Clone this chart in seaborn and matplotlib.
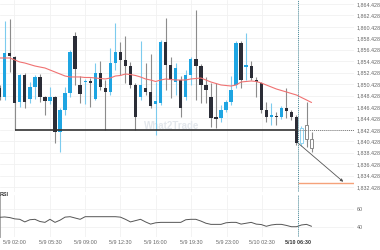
import numpy as np
import pandas as pd
import seaborn as sns
import matplotlib
matplotlib.use("Agg")
import matplotlib.pyplot as plt

# ---------------- data ----------------
opens = [1849.74, 1848.17, 1855.86, 1855.16, 1847.30, 1852.02, 1847.82, 1849.92, 1851.67, 1848.17,
         1847.47, 1848.17, 1842.05, 1845.90, 1848.87, 1858.83, 1850.27, 1850.79, 1850.97, 1847.82,
         1852.37, 1849.74, 1849.05, 1854.11, 1856.04, 1854.64, 1853.59, 1850.27, 1848.17, 1849.74,
         1849.05, 1846.95, 1847.12, 1857.79, 1853.77, 1850.79, 1851.14, 1848.17, 1852.02, 1854.81,
         1853.59, 1850.27, 1848.17, 1844.67, 1844.50, 1845.90, 1847.30, 1850.27, 1857.61, 1853.50,
         1853.59, 1851.14, 1850.62, 1845.90, 1844.67, 1844.85, 1844.67, 1846.25, 1845.55, 1844.67,
         1840.13, 1843.28, 1840.83]
highs = [1850.27, 1861.46, 1861.81, 1855.34, 1852.19, 1852.37, 1850.79, 1852.02, 1852.19, 1848.35,
         1849.92, 1848.35, 1846.25, 1849.92, 1856.39, 1859.53, 1851.84, 1851.32, 1851.49, 1854.11,
         1854.46, 1851.14, 1856.74, 1861.11, 1857.79, 1858.83, 1854.29, 1850.62, 1857.96, 1854.11,
         1855.69, 1850.79, 1858.13, 1861.98, 1855.16, 1854.11, 1851.84, 1852.89, 1855.16, 1863.38,
         1853.94, 1851.67, 1850.62, 1850.62, 1846.77, 1847.65, 1851.84, 1857.96, 1857.96, 1859.36,
         1854.46, 1851.67, 1850.79, 1847.30, 1847.12, 1845.55, 1846.60, 1849.74, 1845.90, 1845.02,
         1843.10, 1847.30, 1842.05]
lows = [1847.65, 1847.65, 1852.54, 1842.40, 1846.42, 1846.25, 1847.12, 1847.82, 1847.30, 1845.02,
        1846.95, 1840.13, 1838.56, 1845.02, 1848.17, 1850.27, 1847.12, 1846.95, 1846.42, 1847.65,
        1849.39, 1842.40, 1848.52, 1852.89, 1852.02, 1850.62, 1849.74, 1842.40, 1847.65, 1848.52,
        1846.25, 1841.53, 1846.77, 1849.39, 1848.00, 1848.52, 1844.67, 1847.65, 1850.27, 1847.65,
        1847.12, 1847.12, 1842.93, 1842.75, 1843.80, 1845.55, 1846.77, 1849.74, 1849.74, 1851.14,
        1851.14, 1848.17, 1845.37, 1843.80, 1843.28, 1843.28, 1844.32, 1844.50, 1844.15, 1839.78,
        1839.61, 1839.43, 1838.56]
closes = [1848.17, 1855.86, 1855.34, 1847.12, 1852.02, 1847.30, 1849.92, 1851.67, 1848.17, 1847.47,
          1848.17, 1842.05, 1845.90, 1848.87, 1856.04, 1853.07, 1848.70, 1850.97, 1850.62, 1852.37,
          1849.92, 1849.05, 1854.11, 1856.04, 1854.64, 1853.59, 1850.27, 1844.67, 1850.27, 1849.05,
          1846.60, 1847.47, 1857.79, 1853.77, 1851.14, 1853.24, 1846.25, 1852.02, 1854.81, 1853.59,
          1850.27, 1849.39, 1844.50, 1844.32, 1845.90, 1847.30, 1849.39, 1857.61, 1851.14, 1853.68,
          1851.49, 1850.79, 1845.90, 1844.67, 1845.02, 1844.67, 1846.25, 1845.72, 1844.67, 1840.13,
          1842.75, 1840.83, 1839.26]
ma = [1854.99, 1854.99, 1854.99, 1854.64, 1854.29, 1854.11, 1853.85, 1853.59, 1853.41, 1853.24,
      1852.89, 1852.54, 1852.19, 1851.84, 1851.67, 1851.67, 1851.67, 1851.58, 1851.58, 1851.49,
      1851.40, 1851.32, 1851.49, 1851.84, 1851.93, 1852.19, 1852.10, 1851.93, 1851.67, 1851.32,
      1851.14, 1850.88, 1851.14, 1851.32, 1851.23, 1851.14, 1851.14, 1851.14, 1851.32, 1851.40,
      1851.49, 1851.14, 1850.79, 1850.53, 1850.27, 1850.18, 1850.09, 1850.27, 1850.79, 1850.88,
      1850.97, 1850.88, 1850.62, 1850.27, 1849.92, 1849.57, 1849.31, 1849.05, 1848.78, 1848.52,
      1848.08, 1847.65, 1847.21]
rsi = [50.8, 51.2, 50.5, 49.0, 48.5, 45.5, 48.0, 48.5, 46.0, 45.0,
       48.5, 45.0, 47.5, 51.0, 51.5, 50.0, 48.5, 51.5, 51.5, 51.5,
       51.5, 51.5, 51.5, 51.5, 51.0, 48.5, 45.5, 47.0, 48.5, 45.5,
       43.0, 44.5, 45.0, 45.0, 45.0, 45.0, 45.0, 48.0, 48.5, 48.5,
       46.5, 44.0, 42.7, 42.7, 42.7, 44.5, 45.0, 45.0, 43.0, 44.0,
       45.0, 43.0, 42.5, 40.5, 42.0, 42.7, 42.7, 41.5, 40.0, 40.0,
       42.0, 42.7, 40.5]
tick_pos = [2.9, 10.0, 17.0, 24.0, 31.0, 38.1, 45.2, 52.2, 59.3]
tick_labels = ["5/9 02:00", "5/9 05:30", "5/9 09:00", "5/9 12:30", "5/9 16:00",
               "5/9 19:30", "5/9 23:00", "5/10 02:30", "5/10 06:30"]
price_ticks = [1832.428, 1834.428, 1836.428, 1838.428, 1840.428, 1842.428, 1844.428,
               1846.428, 1848.428, 1850.428, 1852.428, 1854.428, 1856.428, 1858.428,
               1860.428, 1862.428, 1864.428]
rsi_ticks = [40, 60]
support_level = 1842.428
support_start = 3
target_level = 1833.2
arrow_end = 68.3
now_pos = 59.3
last_closed = 59

# ---------------- style ----------------
sns.set_theme(style="white")
plt.rcParams['font.family'] = ['Liberation Sans', 'DejaVu Sans']

BLUE = "#1ea5e2"
BLUE_WICK = "#7ccbee"
DARK = "#2b2d37"
DARK_WICK = "#8c8c8c"
FS = 3.9

df = pd.DataFrame({"i": np.arange(len(opens)), "open": opens, "high": highs,
                   "low": lows, "close": closes, "ma": ma, "rsi": rsi})

fig = plt.figure(figsize=(3.8, 2.5), dpi=100)
ax = fig.add_axes([0, 1 - 192 / 250, 354 / 380, 192 / 250])
ax2 = fig.add_axes([0, 1 - 237 / 250, 354 / 380, 42 / 250], sharex=ax)

# grid
for v in price_ticks:
    ax.axhline(v, color="#f1f1f1", lw=0.6, zorder=0)
for t in tick_pos:
    ax.axvline(t, color="#f1f1f1", lw=0.6, zorder=0)
    ax2.axvline(t, color="#f1f1f1", lw=0.6, zorder=0)
for v in rsi_ticks:
    ax2.axhline(v, color="#f1f1f1", lw=0.6, zorder=0)

# candles
w = 0.66
for r in df.itertuples():
    up = r.close >= r.open
    hollow = r.i > last_closed
    body_c = BLUE if up else DARK
    wick_c = BLUE_WICK if up else DARK_WICK
    if hollow:
        body_c = "#8fd3f0" if up else "#8a8a8a"
        wick_c = body_c
    ax.vlines(r.i, r.low, r.high, color=wick_c, lw=0.8, zorder=2)
    lo = min(r.open, r.close)
    h = max(abs(r.close - r.open), 0.18)
    if hollow:
        ax.bar(r.i, h, bottom=lo, width=w - 0.1, facecolor="white",
               edgecolor=body_c, linewidth=0.7, zorder=3)
    else:
        ax.bar(r.i, h, bottom=lo, width=w, color=body_c, linewidth=0, zorder=3)

# moving average
sns.lineplot(data=df, x="i", y="ma", ax=ax, color="#f07272", lw=0.8, zorder=4)

# support line and projections
ax.hlines(support_level, support_start, now_pos, color="#333333", lw=1.2, zorder=5)
ax.hlines(support_level, now_pos, 80, color="#777777", lw=0.7, ls=(0, (1, 1)), zorder=5)
ax.hlines(target_level, now_pos, 80, color="#f5a27a", lw=1.0, zorder=5)
ax.annotate("", xy=(arrow_end, target_level + 0.15), xytext=(now_pos, closes[last_closed]),
            arrowprops=dict(arrowstyle="-|>", color="#555555", lw=0.6,
                            mutation_scale=4, shrinkA=0, shrinkB=0), zorder=6)

# now line
for a in (ax, ax2):
    a.axvline(now_pos, color="#4a8c9c", lw=0.7, ls=(0, (1, 1)), zorder=6)

# watermark
ax.text(0.485, 0.345, "What2Trade", transform=ax.transAxes, ha="center", va="center",
        fontsize=7, fontweight="bold", color="#e3e7ec", zorder=1)

# RSI
sns.lineplot(data=df, x="i", y="rsi", ax=ax2, color="#555555", lw=0.7, zorder=4)
ax2.text(0.0, 1.0, "RSI", transform=ax2.transAxes, ha="left", va="center",
         fontsize=FS, fontweight="bold", color="#333333")

# axes limits / ticks
ax.set_xlim(0.066, 70.44)
ax.set_ylim(1831.56, 1865.127)
ax2.set_ylim(28.2, 76.4)

ax.yaxis.tick_right()
ax.set_yticks(price_ticks)
ax.set_yticklabels([f"{v:,.3f}" for v in price_ticks])
ax2.yaxis.tick_right()
ax2.set_yticks(rsi_ticks)
ax2.set_yticklabels([str(v) for v in rsi_ticks])
ax2.set_xticks(tick_pos)
ax2.set_xticklabels(tick_labels)
ax.tick_params(axis="x", labelbottom=False, length=0)
for a in (ax, ax2):
    a.tick_params(axis="both", labelsize=FS, colors="#666666", length=0, pad=2)
    a.set_xlabel("")
    a.set_ylabel("")
    a.grid(False)
    for s in a.spines.values():
        s.set_visible(False)
ax2.spines["left"].set_visible(True)
ax2.spines["left"].set_linestyle((0, (1, 1)))
ax2.spines["left"].set_color("#999999")
ax2.spines["left"].set_linewidth(0.6)
lbls = ax2.get_xticklabels()
lbls[-1].set_fontweight("bold")
lbls[-1].set_color("#333333")

fig.savefig("out.png", dpi=100)
